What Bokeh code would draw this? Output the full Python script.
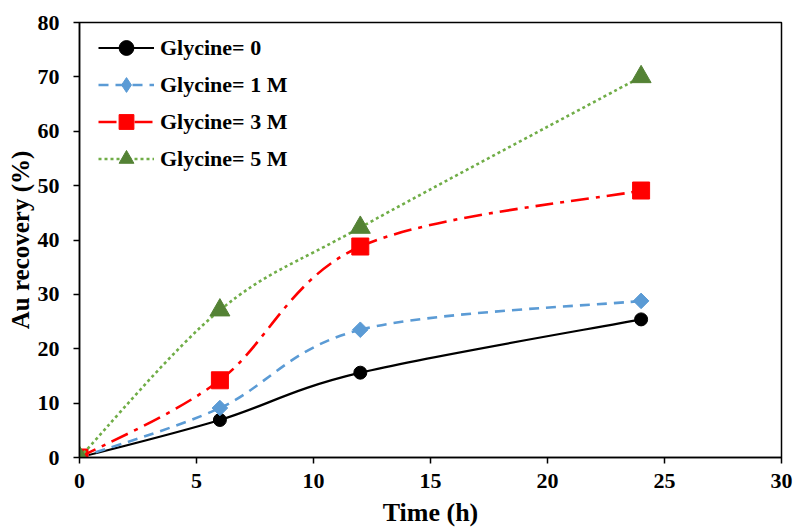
import math
from bokeh.plotting import figure
from bokeh.models import Range1d, Legend, LegendItem, FixedTicker
from bokeh.embed import file_html
from bokeh.resources import INLINE
from bokeh.core.properties import value

# ---- data ----
time_h = [0, 6, 12, 24]
glycine_0 = [0, 6.9, 15.6, 25.4]
glycine_1M = [0, 9.1, 23.5, 28.8]
glycine_3M = [0, 14.2, 38.8, 49.1]
glycine_5M = [0, 27.1, 42.3, 70.0]
series_labels = ["Glycine= 0", "Glycine= 1 M", "Glycine= 3 M", "Glycine= 5 M"]
x_ticks = [0, 5, 10, 15, 20, 25, 30]
y_ticks = [0, 10, 20, 30, 40, 50, 60, 70, 80]
x_title = "Time (h)"
y_title = "Au recovery (%)"

FONT = "Liberation Serif"
NAN = float("nan")


def smooth_segments(xs, ys):
    """Catmull-Rom style cubic Bezier control points (Excel 'smoothed line')."""
    n = len(xs)
    seg = dict(x0=[], y0=[], x1=[], y1=[], cx0=[], cy0=[], cx1=[], cy1=[])
    for i in range(n - 1):
        xp, yp = (xs[i - 1], ys[i - 1]) if i > 0 else (xs[i], ys[i])
        xn, yn = (xs[i + 2], ys[i + 2]) if i + 2 < n else (xs[i + 1], ys[i + 1])
        seg["x0"].append(xs[i]); seg["y0"].append(ys[i])
        seg["x1"].append(xs[i + 1]); seg["y1"].append(ys[i + 1])
        seg["cx0"].append(xs[i] + (xs[i + 1] - xp) / 6.0)
        seg["cy0"].append(ys[i] + (ys[i + 1] - yp) / 6.0)
        seg["cx1"].append(xs[i + 1] - (xn - xs[i]) / 6.0)
        seg["cy1"].append(ys[i + 1] - (yn - ys[i]) / 6.0)
    return seg


p = figure(width=795, height=529, output_backend="svg", toolbar_location=None,
           x_range=Range1d(0, 30), y_range=Range1d(0, 80),
           min_border_left=79, min_border_right=14, min_border_top=22,
           min_border_bottom=71)

p.xgrid.visible = False
p.ygrid.visible = False
p.outline_line_color = "black"
p.outline_line_width = 1.5
p.background_fill_color = "white"
p.border_fill_color = "white"

for ax, ticks, title in ((p.xaxis[0], x_ticks, x_title), (p.yaxis[0], y_ticks, y_title)):
    ax.ticker = FixedTicker(ticks=ticks)
    ax.minor_tick_line_color = None
    ax.major_tick_in = 0
    ax.major_tick_out = 6
    ax.major_tick_line_color = "black"
    ax.major_tick_line_width = 1.5
    ax.axis_line_color = "black"
    ax.axis_line_width = 1.5
    ax.major_label_text_font = FONT
    ax.major_label_text_font_style = "bold"
    ax.major_label_text_font_size = "22px"
    ax.major_label_text_color = "black"
    ax.axis_label = title
    ax.axis_label_text_font = FONT
    ax.axis_label_text_font_style = "bold"
    ax.axis_label_text_color = "black"

p.xaxis.major_label_standoff = 10
p.xaxis.axis_label_standoff = 7
p.xaxis.axis_label_text_font_size = "26px"
p.yaxis.major_label_standoff = 14
p.yaxis.axis_label_standoff = 1
p.yaxis.axis_label_text_font_size = "25px"

styles = [
    dict(values=glycine_0, color="black", width=2.2, dash="solid",
         marker="circle", lmarker="circle", size=13, mcolor="black", angle=0.0),
    dict(values=glycine_1M, color="#5B9BD5", width=2.6, dash="10 7",
         marker="square", lmarker="diamond", size=11, mcolor="#5B9BD5", angle=math.pi / 4),
    dict(values=glycine_3M, color="#FF0000", width=2.6, dash="18 7 4 7",
         marker="square", lmarker="square", size=17, mcolor="#FF0000", angle=0.0),
    dict(values=glycine_5M, color="#70AD47", width=2.6, dash="3 3",
         marker="triangle", lmarker="triangle", size=20, mcolor="#548235", angle=0.0),
]

items = []
for lab, st in zip(series_labels, styles):
    seg = smooth_segments(time_h, st["values"])
    p.bezier(**seg, line_color=st["color"], line_width=st["width"],
             line_dash=st["dash"])
    p.scatter(x=time_h, y=st["values"], marker=st["marker"], size=st["size"],
              angle=st["angle"], fill_color=st["mcolor"], line_color=st["mcolor"])
    # legend-only proxies (no visible data)
    proxy_line = p.line(x=[NAN, NAN], y=[NAN, NAN], line_color=st["color"],
                        line_width=st["width"], line_dash=st["dash"])
    proxy_mark = p.scatter(x=[NAN], y=[NAN], marker=st["lmarker"], size=st["size"],
                           fill_color=st["mcolor"], line_color=st["mcolor"])
    items.append(LegendItem(label=value(lab), renderers=[proxy_line, proxy_mark]))

legend = Legend(items=items, location=(19, 280), glyph_width=56, glyph_height=37,
                label_height=37, spacing=0, padding=0, margin=0, label_standoff=6,
                border_line_alpha=0, background_fill_alpha=0,
                label_text_font=FONT, label_text_font_style="bold",
                label_text_font_size="22px", label_text_color="black")
p.add_layout(legend)

open("out.html", "w").write(file_html(p, INLINE))
